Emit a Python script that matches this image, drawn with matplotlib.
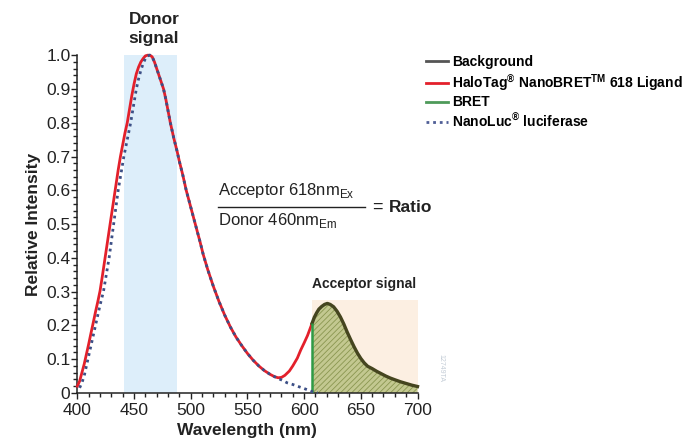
import matplotlib
matplotlib.use('Agg')
import matplotlib.pyplot as plt
from matplotlib.lines import Line2D
from matplotlib.ticker import MultipleLocator

plt.rcParams['font.family'] = ['Liberation Sans', 'DejaVu Sans']
plt.rcParams['mathtext.fontset'] = 'custom'
plt.rcParams['mathtext.rm'] = 'Liberation Sans'
plt.rcParams['mathtext.bf'] = 'Liberation Sans:bold'
plt.rcParams['hatch.linewidth'] = 0.6

# HaloTag NanoBRET 618 ligand (donor + acceptor rise)
halo_wl = [400, 402, 404, 406, 408, 410, 412, 414, 416, 418, 420, 422, 424, 426, 428, 430,
           432, 434, 436, 438, 440, 442, 444, 446, 448, 450, 452, 454, 456, 458, 460, 462,
           464, 466, 468, 470, 472, 474, 476, 478, 480, 482, 485, 488, 490, 493, 496, 500,
           504, 508, 511, 515, 520, 525, 530, 535, 540, 545, 550, 555, 560, 565, 570, 574,
           577, 580, 583, 587, 590, 594, 597, 600, 603, 605, 607]
halo_val = [0.02, 0.035, 0.06, 0.085, 0.115, 0.145, 0.177, 0.208, 0.24, 0.27, 0.302, 0.345, 0.39, 0.435, 0.48, 0.525,
            0.57, 0.615, 0.66, 0.70, 0.735, 0.77, 0.80, 0.84, 0.88, 0.915, 0.945, 0.965, 0.98, 0.99, 0.998, 1.0,
            1.0, 0.995, 0.98, 0.96, 0.94, 0.92, 0.90, 0.87, 0.835, 0.80, 0.755, 0.715, 0.685, 0.645, 0.60, 0.55,
            0.50, 0.45, 0.41, 0.365, 0.315, 0.27, 0.23, 0.195, 0.165, 0.14, 0.117, 0.097, 0.08, 0.066, 0.055, 0.048,
            0.045, 0.046, 0.052, 0.065, 0.08, 0.103, 0.127, 0.148, 0.17, 0.188, 0.206]

# NanoLuc luciferase (donor only)
nluc_wl = [402, 404, 406, 408, 410, 412, 414, 416, 418, 420, 423, 425.5, 428, 430, 432, 434,
           436, 438.5, 441, 444, 447, 449.5, 452, 454, 456, 458, 460, 462, 464, 466, 468, 470,
           472, 474, 476, 478, 480, 482, 485, 488, 490, 493, 496, 500, 504, 508, 511, 515,
           520, 525, 530, 535, 540, 545, 550, 555, 560, 565, 570, 574, 577, 581, 585, 590,
           594, 600, 604, 607, 612]
nluc_val = [0.015, 0.03, 0.05, 0.08, 0.11, 0.14, 0.17, 0.20, 0.23, 0.26, 0.30, 0.35, 0.40, 0.45, 0.50, 0.55,
            0.60, 0.65, 0.70, 0.75, 0.80, 0.85, 0.90, 0.93, 0.955, 0.975, 0.99, 0.998, 1.0, 0.995, 0.98, 0.96,
            0.94, 0.92, 0.90, 0.87, 0.835, 0.80, 0.755, 0.715, 0.685, 0.645, 0.60, 0.55, 0.50, 0.45, 0.41, 0.365,
            0.315, 0.27, 0.23, 0.195, 0.165, 0.14, 0.117, 0.097, 0.08, 0.066, 0.055, 0.048, 0.043, 0.037, 0.03, 0.025,
            0.02, 0.013, 0.008, 0.004, 0.0]

# acceptor emission (background line)
acc_wl = [607, 609, 611, 613, 615.5, 618, 620.5, 623, 626, 629, 632, 635, 638, 641, 644, 647,
          650, 653, 656, 660, 664, 668, 672, 676, 680, 685, 690, 695, 700]
acc_val = [0.206, 0.224, 0.237, 0.248, 0.256, 0.262, 0.265, 0.262, 0.255, 0.242, 0.225, 0.204, 0.18, 0.158, 0.137, 0.118,
           0.102, 0.089, 0.079, 0.072, 0.064, 0.057, 0.05, 0.044, 0.039, 0.033, 0.028, 0.023, 0.019]

# BRET at acceptor start
bret_wl = [607]
bret_val = [0.206]

donor_band = (441, 488)
acceptor_band = (607, 700)
band_top = [1.0, 0.275]

x_ticks = [400, 450, 500, 550, 600, 650, 700]
y_ticks = [0, 0.1, 0.2, 0.3, 0.4, 0.5, 0.6, 0.7, 0.8, 0.9, 1.0]
y_labels = ['0', '0.1', '0.2', '0.3', '0.4', '0.5', '0.6', '0.7', '0.8', '0.9', '1.0']

fig = plt.figure(figsize=(6.97, 4.45), dpi=100)
ax = fig.add_axes([0.111, 0.117, 0.488, 0.759])

# shaded signal windows
ax.fill_between(donor_band, 0, band_top[0], color='#ddeefa', lw=0, zorder=0, clip_on=False)
ax.fill_between(acceptor_band, 0, band_top[1], color='#fcefe2', lw=0, zorder=0)

# acceptor area
ax.fill_between(acc_wl, 0, acc_val, facecolor='#c3c890', edgecolor='#8a9650', hatch='//////', lw=0, zorder=1)

ax.plot(halo_wl, halo_val, color='#e3202b', lw=2, zorder=3, clip_on=False, solid_joinstyle='round')
ax.plot(acc_wl, acc_val, color='#45451f', lw=2.4, zorder=3, clip_on=False, solid_joinstyle='round')
ax.vlines(bret_wl, 0, bret_val, color='#2f9a46', lw=1.8, zorder=4)
ax.plot(nluc_wl, nluc_val, color='#3c4f86', lw=2, ls=(0, (1, 1.4)), zorder=5, clip_on=False)

ax.set_xlim(400, 700)
ax.set_ylim(0, 1.0)
ax.set_xticks(x_ticks)
ax.set_yticks(y_ticks)
ax.set_yticklabels(y_labels)
ax.xaxis.set_minor_locator(MultipleLocator(10))
ax.yaxis.set_minor_locator(MultipleLocator(0.02))
ax.tick_params(which='major', length=4, width=1, labelsize=12.5, colors='#222222')
ax.tick_params(axis='x', pad=3.5)
ax.tick_params(axis='y', pad=1)
ax.tick_params(which='minor', length=3, width=1, colors='#222222')
for s in ['top', 'right']:
    ax.spines[s].set_visible(False)
for s in ['left', 'bottom']:
    ax.spines[s].set_linewidth(1.1)
    ax.spines[s].set_color('#222222')

ax.set_xlabel('Wavelength (nm)', fontsize=12.5, fontweight='bold', labelpad=3, color='#222222')
ax.set_ylabel('Relative Intensity', fontsize=12.5, fontweight='bold', labelpad=4, color='#222222')

fig.text(0.221, 0.935, 'Donor\nsignal', ha='center', va='center', fontsize=12.5,
         fontweight='bold', linespacing=1.35, color='#222222')
fig.text(0.522, 0.362, 'Acceptor signal', ha='center', va='center', fontsize=10,
         fontweight='bold', color='#222222')

# ratio formula
fig.text(218 / 697, 1 - 191 / 445, r'Acceptor 618nm$_{\mathrm{Ex}}$', ha='left', va='center',
         fontsize=12, color='#222222')
fig.text(218 / 697, 1 - 221 / 445, r'Donor 460nm$_{\mathrm{Em}}$', ha='left', va='center',
         fontsize=12, color='#222222')
fig.add_artist(Line2D([218 / 697, 365 / 697], [1 - 207 / 445, 1 - 207 / 445], color='#222222', lw=1))
fig.text(372 / 697, 1 - 207 / 445, '=', ha='left', va='center', fontsize=13, color='#222222')
fig.text(389 / 697, 1 - 207 / 445, 'Ratio', ha='left', va='center', fontsize=12.5,
         fontweight='bold', color='#222222')

fig.text(441 / 697, 1 - 368 / 445, '12749TA', rotation=270, ha='center', va='center',
         fontsize=5, color='#c3ccd6')

handles = [
    Line2D([], [], color='#555555', lw=2),
    Line2D([], [], color='#e3202b', lw=2),
    Line2D([], [], color='#4e9a5a', lw=2),
    Line2D([], [], color='#4f5e96', lw=2, ls=(0, (1, 1.4))),
]
labels = [
    'Background',
    r'HaloTag$^{\mathbf{®}}$ NanoBRET$^{\mathbf{TM}}$ 618 Ligand',
    'BRET',
    r'NanoLuc$^{\mathbf{®}}$ luciferase',
]
fig.legend(handles, labels, loc='upper left', bbox_to_anchor=(426 / 697, 1 - 55 / 445),
           frameon=False, handlelength=1.55, handletextpad=0.3, labelspacing=0.2,
           borderaxespad=0, borderpad=0, prop={'size': 10, 'weight': 'bold'})

fig.savefig('out.png', dpi=100)
